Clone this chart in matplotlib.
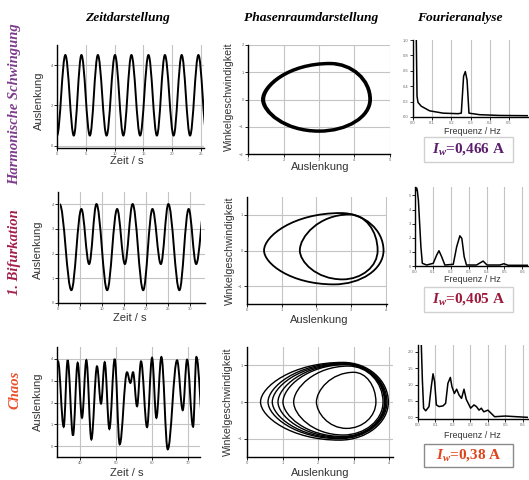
import matplotlib
matplotlib.use("Agg")
import matplotlib.pyplot as plt
from matplotlib.path import Path
from matplotlib.patches import PathPatch, Rectangle

plt.rcParams["font.family"] = ["Liberation Sans", "DejaVu Sans"]
plt.rcParams["mathtext.fontset"] = "custom"
plt.rcParams["mathtext.rm"] = "Liberation Serif:bold"
plt.rcParams["mathtext.it"] = "Liberation Serif:italic:bold"
plt.rcParams["mathtext.bf"] = "Liberation Serif:bold"

harm_t = [0.0, 1.45, 2.91, 4.24, 5.70, 7.09, 8.60, 10.06, 11.51, 12.91,
          14.42, 15.87, 17.33, 18.72, 20.23, 21.63, 23.08, 24.53, 25.99]
harm_y = [0.5, 4.5, 0.5, 4.5, 0.5, 4.5, 0.5, 4.5, 0.5, 4.5,
          0.5, 4.5, 0.5, 4.5, 0.5, 4.5, 0.5, 4.5, 0.5]

bif_t = [0.4, 3.03, 5.30, 7.05, 8.71, 11.14, 13.40, 15.15, 16.90, 19.30,
         21.40, 23.30, 25.00, 27.50, 29.60, 31.30, 33.30]
bif_y = [4.0, 0.52, 3.81, 1.58, 4.01, 0.52, 3.81, 1.58, 4.01, 0.52,
         3.81, 1.58, 4.01, 0.52, 3.81, 1.58, 4.0]
bif_t_end = 32.35

chaos_t = [32.3, 33.78, 35.35, 36.46, 37.94, 39.24, 40.44, 41.65, 43.04, 44.61,
           45.72, 46.74, 48.04, 49.52, 50.91, 52.94, 53.87, 54.61, 55.72, 56.83,
           58.50, 59.89, 61.09, 62.48, 64.24, 66.83, 68.41, 69.61, 71.28, 72.20,
           74.24]
chaos_y = [1.0, 3.89, 0.89, 3.94, 0.49, 3.82, 1.30, 3.94, 0.31, 3.66,
           1.95, 3.85, 0.79, 4.00, 0.08, 3.39, 2.90, 3.39, 1.83, 3.89,
           0.87, 4.05, 1.30, 4.09, -0.15, 3.94, 1.65, 3.97, 0.89, 4.09,
           0.60]

# ---- Phasenraum: Schleifen (links, oben-x, oben-y, rechts, unten-x, unten-y) ----
harm_loops = [
    (1.40, 3.31, 1.34, 4.46, 3.00, -1.18),
    (1.45, 3.30, 1.30, 4.42, 3.00, -1.14),
]
bif_loops = [
    (0.49, 2.70, 1.05, 3.93, 2.50, -0.95),
    (1.52, 2.95, 1.01, 3.76, 2.75, -0.81),
]
chaos_loops = [
    (0.38, 2.70, 1.08, 3.97, 2.60, -1.04),
    (0.59, 2.70, 1.06, 3.93, 2.60, -1.00),
    (0.71, 2.72, 1.04, 3.90, 2.62, -0.98),
    (0.87, 2.75, 1.03, 3.88, 2.65, -0.96),
    (1.01, 2.78, 1.02, 3.86, 2.68, -0.94),
    (1.31, 2.85, 0.98, 3.82, 2.70, -0.90),
    (1.95, 3.00, 0.81, 3.62, 2.80, -0.72),
]

# ---- Fourieranalyse: Frequenz / Hz, Amplitude ----
harm_f = [0.017, 0.021, 0.026, 0.043, 0.087, 0.157, 0.235, 0.252, 0.264, 0.273,
          0.282, 0.292, 0.348, 0.452, 0.600]
harm_a = [1.05, 0.27, 0.19, 0.14, 0.08, 0.05, 0.043, 0.05, 0.53, 0.59,
          0.48, 0.05, 0.03, 0.02, 0.017]

bif_f = [0.004, 0.009, 0.013, 0.019, 0.033, 0.041, 0.065, 0.102, 0.121, 0.134,
         0.149, 0.167, 0.214, 0.233, 0.251, 0.262, 0.275, 0.288, 0.344, 0.372,
         0.381, 0.403, 0.474, 0.497, 0.521, 0.632]
bif_a = [5.35, 5.54, 5.35, 4.65, 1.36, 0.19, 0.07, 0.19, 0.77, 1.08,
         0.66, 0.07, 0.12, 1.36, 2.14, 1.95, 0.66, 0.07, 0.07, 0.28,
         0.35, 0.07, 0.07, 0.16, 0.05, 0.05]

chaos_f = [0.019, 0.025, 0.032, 0.044, 0.063, 0.076, 0.086, 0.095, 0.105, 0.120,
           0.143, 0.158, 0.171, 0.185, 0.194, 0.208, 0.221, 0.235, 0.249, 0.263,
           0.276, 0.301, 0.320, 0.334, 0.349, 0.362, 0.376, 0.400, 0.438, 0.499,
           0.629]
chaos_a = [2.20, 1.14, 0.28, 0.20, 0.33, 0.94, 1.33, 1.09, 0.38, 0.33,
           0.35, 0.43, 1.04, 1.22, 0.94, 0.73, 0.86, 0.68, 0.58, 0.86,
           0.55, 0.28, 0.38, 0.33, 0.22, 0.28, 0.17, 0.22, 0.02, 0.04,
           0.0]

row_titles = ["Harmonische Schwingung", "1. Bifurkation", "Chaos"]
row_colors = ["#7d3c8c", "#a3204a", "#e8502c"]
box_texts = [r"$I_w$=0,466 A", r"$I_w$=0,405 A", r"$I_w$=0,38 A"]
box_colors = ["#5c1f6e", "#9b1b3c", "#e0441c"]
col_titles = ["Zeitdarstellung", "Phasenraumdarstellung", "Fourieranalyse"]

W, H = 529, 480
fig = plt.figure(figsize=(W / 100, H / 100), dpi=100)
GRID = "#c4c4c4"


def px_axes(l, t, r, b):
    return fig.add_axes([l / W, 1 - b / H, (r - l) / W, (b - t) / H])


def style(ax, xgrid=True, ygrid=True):
    for s in ("top", "right"):
        ax.spines[s].set_visible(False)
    for s in ("left", "bottom"):
        ax.spines[s].set_linewidth(1.0)
    ax.tick_params(labelsize=3, labelcolor="#666666", length=2, width=0.6, pad=1)
    ax.set_axisbelow(True)
    if xgrid:
        ax.grid(True, axis="x", color=GRID, lw=0.8)
    if ygrid:
        ax.grid(True, axis="y", color=GRID, lw=0.8)


def ftext(x, y, s, **kw):
    return fig.text(x / W, 1 - y / H, s, **kw)


def wave(ax, ts, ys, t_end=None):
    # halbe Schwingungen zwischen den Extremwerten als Bezier-Kurven
    verts = [(ts[0], ys[0])]
    codes = [Path.MOVETO]
    for i in range(len(ts) - 1):
        dt = ts[i + 1] - ts[i]
        verts += [(ts[i] + 0.364 * dt, ys[i]), (ts[i + 1] - 0.364 * dt, ys[i + 1]),
                  (ts[i + 1], ys[i + 1])]
        codes += [Path.CURVE4] * 3
    patch = PathPatch(Path(verts, codes), fill=False, ec="black", lw=1.4)
    ax.add_patch(patch)
    if t_end is not None:
        clip = Rectangle((ts[0], -10), t_end - ts[0], 20, transform=ax.transData)
        patch.set_clip_path(clip)


def loop(ax, xl, xt, yt, xr, xb, yb, lw):
    kl, kt, kr = 0.38, 0.62, 0.55
    verts = [(xl, 0),
             (xl, kl * yt), (xt - kt * (xt - xl), yt), (xt, yt),
             (xt + kr * (xr - xt), yt), (xr, kr * yt), (xr, 0),
             (xr, kr * yb), (xb + kr * (xr - xb), yb), (xb, yb),
             (xb - kt * (xb - xl), yb), (xl, kl * yb), (xl, 0)]
    codes = [Path.MOVETO] + [Path.CURVE4] * 12
    ax.add_patch(PathPatch(Path(verts, codes), fill=False, ec="black", lw=lw))


# Spaltenüberschriften
for x, s in zip([127, 311, 460], col_titles):
    ftext(x, 18, s, ha="center", va="center", fontsize=9.7, fontfamily="Liberation Serif",
          weight="bold", style="italic")

# Zeilentitel
for y, s, c in zip([104, 252, 390], row_titles, row_colors):
    ftext(15, y, s, ha="center", va="center", rotation=90, fontsize=10.5, color=c,
          fontfamily="Liberation Serif", weight="bold", style="italic")

LBL = dict(fontsize=8, color="#333333", ha="center", va="center")

# ---- Zeile 1 ----
ax = px_axes(57, 45, 204, 148)
style(ax)
wave(ax, harm_t, harm_y)
ax.set_xlim(0, 25.5)
ax.set_ylim(-0.12, 5.0)
ax.set_xticks([0, 5, 10, 15, 20, 25])
ax.set_yticks([0, 2, 4])

ax = px_axes(248, 45, 390, 154)
style(ax)
for lp in harm_loops:
    loop(ax, *lp, lw=1.7)
ax.set_xlim(1, 5)
ax.set_ylim(-2, 2)
ax.set_xticks([1, 2, 3, 4, 5])
ax.set_yticks([-2, -1, 0, 1, 2])

ax = px_axes(413, 40, 528, 117)
style(ax, ygrid=False)
ax.plot(harm_f, harm_a, color="black", lw=1.1)
ax.set_xlim(0, 0.6)
ax.set_ylim(0, 1.0)
ax.set_xticks([0, 0.1, 0.2, 0.3, 0.4, 0.5])
ax.set_yticks([0, 0.2, 0.4, 0.6, 0.8, 1.0])

ftext(39, 101, "Auslenkung", rotation=90, **LBL)
ftext(127, 161, "Zeit / s", **LBL)
ftext(229, 97, "Winkelgeschwindigkeit", rotation=90, **dict(LBL, fontsize=7.7))
ftext(320, 167, "Auslenkung", **LBL)
ftext(472, 131, "Frequenz / Hz", **dict(LBL, fontsize=6.5))

# ---- Zeile 2 ----
ax = px_axes(58, 192, 205, 303)
style(ax)
wave(ax, bif_t, bif_y, t_end=bif_t_end)
ax.set_xlim(0, 33.3)
ax.set_ylim(0, 4.5)
ax.set_xticks([0, 5, 10, 15, 20, 25, 30])
ax.set_yticks([0, 1, 2, 3, 4])

ax = px_axes(247, 197, 387, 304)
style(ax)
for lp in bif_loops:
    loop(ax, *lp, lw=1.3)
ax.set_xlim(0, 4.03)
ax.set_ylim(-1.5, 1.5)
ax.set_xticks([0, 1, 2, 3, 4])
ax.set_yticks([-1, 0, 1])

ax = px_axes(415, 187, 528, 266)
style(ax, ygrid=False)
ax.plot(bif_f, bif_a, color="black", lw=1.1)
ax.set_xlim(0, 0.632)
ax.set_ylim(0, 5.6)
ax.set_xticks([0, 0.1, 0.2, 0.3, 0.4, 0.5, 0.6])
ax.set_yticks([0, 1, 2, 3, 4, 5])

ftext(38, 250, "Auslenkung", rotation=90, **LBL)
ftext(130, 318, "Zeit / s", **LBL)
ftext(230, 251, "Winkelgeschwindigkeit", rotation=90, **dict(LBL, fontsize=7.7))
ftext(319, 320, "Auslenkung", **LBL)
ftext(472, 279, "Frequenz / Hz", **dict(LBL, fontsize=6.5))

# ---- Zeile 3 ----
ax = px_axes(57, 347, 200, 457)
style(ax)
wave(ax, chaos_t, chaos_y)
ax.set_xlim(33.5, 73.2)
ax.set_ylim(-0.5, 4.55)
ax.set_xticks([40, 50, 60, 70])
ax.set_yticks([0, 1, 2, 3, 4])

ax = px_axes(247, 347, 393, 457)
style(ax)
for lp in chaos_loops:
    loop(ax, *lp, lw=1.0)
ax.set_xlim(0, 4.1)
ax.set_ylim(-1.5, 1.5)
ax.set_xticks([0, 1, 2, 3, 4])
ax.set_yticks([-1, 0, 1])

ax = px_axes(418, 345, 528, 419)
style(ax, ygrid=False)
ax.plot(chaos_f, chaos_a, color="black", lw=1.1)
ax.set_xlim(0, 0.629)
ax.set_ylim(-0.05, 2.21)
ax.set_xticks([0, 0.1, 0.2, 0.3, 0.4, 0.5, 0.6])
ax.set_yticks([0, 0.5, 1.0, 1.5, 2.0])

ftext(38, 402, "Auslenkung", rotation=90, **LBL)
ftext(127, 473, "Zeit / s", **LBL)
ftext(228, 402, "Winkelgeschwindigkeit", rotation=90, **dict(LBL, fontsize=7.7))
ftext(320, 473, "Auslenkung", **LBL)
ftext(472, 436, "Frequenz / Hz", **dict(LBL, fontsize=6.5))

# ---- Stromstärke-Kästen ----
for (t, b), s, c, ec in zip([(137, 162), (287, 312), (444, 467)], box_texts, box_colors,
                            ["#d0d0d0", "#d0d0d0", "#8a8a8a"]):
    fig.add_artist(Rectangle((424 / W, 1 - b / H), 89 / W, (b - t) / H,
                             transform=fig.transFigure, fc="white", ec=ec, lw=1.0))
    ftext(468.5, (t + b) / 2, s, ha="center", va="center", fontsize=11, color=c,
          fontfamily="Liberation Serif", weight="bold")

fig.savefig("out.png", dpi=100)
